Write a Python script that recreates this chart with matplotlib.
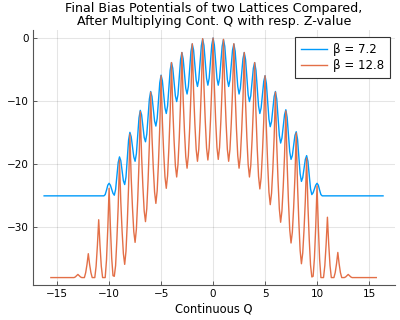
import numpy as np
import matplotlib
matplotlib.use("Agg")
import matplotlib.pyplot as plt

# Datos (Q continuo, paso de 0.125)
q_blue = np.linspace(-10.75, 10.75, 173)
bias_blue = [
    -25.1, -25.1, -25.1,
    -24.9, -24.2, -23.4, -23.1,
    -23.4, -24.05, -24.7, -25.0,
    -24.1, -21.95, -19.8, -18.9,
    -19.5, -21.1, -22.7, -23.3,
    -22.1, -19.15, -16.2, -15.0,
    -15.7, -17.3, -18.9, -19.6,
    -18.4, -15.55, -12.7, -11.5,
    -12.2, -14.0, -15.8, -16.5,
    -15.3, -12.5, -9.7, -8.5,
    -9.3, -11.25, -13.2, -14.0,
    -12.8, -9.95, -7.1, -5.9,
    -6.8, -8.95, -11.1, -12.0,
    -10.8, -7.95, -5.1, -3.9,
    -4.8, -7.0, -9.2, -10.1,
    -9.0, -6.2, -3.4, -2.3,
    -3.3, -5.6, -8.0, -8.9,
    -7.7, -4.9, -2.1, -0.95,
    -1.9, -4.3, -6.7, -7.7,
    -6.6, -3.9, -1.2, -0.15,
    -1.2, -3.8, -6.4, -7.5,
    -6.4, -3.75, -1.1, 0.0,
    -1.1, -3.75, -6.4, -7.5,
    -6.4, -3.9, -1.3, -0.25,
    -1.3, -4.0, -6.6, -7.7,
    -6.7, -4.3, -1.9, -0.95,
    -2.1, -4.9, -7.7, -8.9,
    -8.0, -5.6, -3.3, -2.3,
    -3.4, -6.2, -9.0, -10.1,
    -9.2, -7.0, -4.8, -3.9,
    -5.1, -7.95, -10.8, -12.0,
    -11.1, -9.0, -6.9, -6.0,
    -7.2, -10.05, -12.9, -14.1,
    -13.3, -11.3, -9.3, -8.5,
    -9.7, -12.6, -15.5, -16.7,
    -15.9, -14.05, -12.2, -11.4,
    -12.6, -15.35, -18.1, -19.3,
    -18.7, -17.1, -15.5, -14.9,
    -16.1, -18.85, -21.6, -22.8,
    -22.2, -20.75, -19.3, -18.7,
    -19.6, -21.8, -24.0, -24.9,
    -24.6, -24.0, -23.4, -23.1,
    -23.4, -24.2, -24.9, -25.1,
    -25.1, -25.1,
]
blue_ends_q = [-16.25, 16.35]
blue_floor = -25.1

q_orange = np.linspace(-13.5, 13.5, 217)
bias_orange = [
    -38.1,
    -38.1, -38.0, -37.8, -37.6,
    -37.8, -38.0, -38.1, -38.1,
    -38.1, -37.3, -36.0, -34.3,
    -36.0, -37.3, -38.1, -38.1,
    -38.1, -36.3, -33.0, -28.9,
    -33.0, -36.3, -38.1, -38.1,
    -38.1, -35.3, -30.3, -23.9,
    -30.0, -35.0, -37.8, -37.9,
    -36.2, -32.0, -26.8, -19.4,
    -26.0, -30.7, -34.3, -36.0,
    -33.9, -29.4, -23.6, -15.3,
    -22.2, -27.0, -30.8, -32.5,
    -30.4, -25.8, -20.0, -11.7,
    -18.7, -23.6, -27.5, -29.2,
    -27.1, -22.6, -16.8, -8.6,
    -15.7, -20.6, -24.5, -26.3,
    -24.3, -19.8, -14.1, -6.0,
    -13.2, -18.2, -22.1, -23.9,
    -21.9, -17.5, -11.9, -3.9,
    -11.2, -16.3, -20.3, -22.1,
    -20.1, -15.8, -10.2, -2.3,
    -9.7, -14.8, -18.9, -20.7,
    -18.7, -14.4, -8.8, -0.9,
    -8.4, -13.6, -17.7, -19.6,
    -17.7, -13.4, -7.9, -0.1,
    -7.8, -13.2, -17.5, -19.4,
    -17.5, -13.2, -7.8, 0.0,
    -7.7, -13.1, -17.4, -19.3,
    -17.4, -13.2, -7.9, -0.2,
    -8.0, -13.4, -17.7, -19.6,
    -17.7, -13.6, -8.4, -0.9,
    -8.8, -14.4, -18.7, -20.7,
    -18.9, -14.8, -9.7, -2.3,
    -10.2, -15.8, -20.1, -22.1,
    -20.3, -16.3, -11.2, -3.9,
    -11.9, -17.6, -22.0, -24.0,
    -22.2, -18.2, -13.2, -6.0,
    -14.2, -19.9, -24.5, -26.5,
    -24.7, -20.8, -15.8, -8.6,
    -16.9, -22.7, -27.2, -29.3,
    -27.5, -23.6, -18.7, -11.6,
    -20.0, -25.9, -30.5, -32.6,
    -30.9, -27.0, -22.1, -15.1,
    -23.4, -29.2, -33.8, -35.9,
    -34.2, -30.5, -25.8, -19.1,
    -26.7, -32.0, -36.1, -38.0,
    -37.9, -35.0, -30.0, -23.5,
    -30.0, -35.2, -38.1, -38.1,
    -38.1, -36.2, -32.8, -28.5,
    -32.8, -36.2, -38.1, -38.1,
    -38.1, -37.3, -35.9, -34.1,
    -35.9, -37.3, -38.1, -38.1,
    -38.1, -38.0, -37.8, -37.6,
    -37.8, -38.0, -38.1, -38.1,
]
orange_ends_q = [-15.6, 15.7]
orange_floor = -38.1

labels = ["β = 7.2", "β = 12.8"]
x_ticks = [-15, -10, -5, 0, 5, 10, 15]
y_ticks = [-30, -20, -10, 0]

# Añadir los tramos planos de los extremos
xb = np.concatenate([[blue_ends_q[0]], q_blue, [blue_ends_q[1]]])
yb = np.concatenate([[blue_floor], bias_blue, [blue_floor]])
xo = np.concatenate([[orange_ends_q[0]], q_orange, [orange_ends_q[1]]])
yo = np.concatenate([[orange_floor], bias_orange, [orange_floor]])

plt.rcParams["font.family"] = ["DejaVu Sans"]

fig = plt.figure(figsize=(4, 3.2), dpi=100)
ax = fig.add_axes([0.083, 0.109, 0.9045, 0.797])

ax.plot(xb, yb, color="#009AFA", linewidth=1, label=labels[0])
ax.plot(xo, yo, color="#E36F47", linewidth=1, label=labels[1])

ax.set_xlim(-17.3, 17.5)
ax.set_ylim(-39.3, 1.27)
ax.set_xticks(x_ticks)
ax.set_yticks(y_ticks)
ax.grid(True, color="black", alpha=0.1, linewidth=0.8)
ax.tick_params(direction="in", length=3, width=0.6, color="#444444",
               labelsize=7.5, pad=3)
for side in ["top", "right"]:
    ax.spines[side].set_visible(False)
for side in ["left", "bottom"]:
    ax.spines[side].set_color("#555555")
    ax.spines[side].set_linewidth(0.8)

ax.set_title("Final Bias Potentials of two Lattices Compared,\n"
             "After Multiplying Cont. Q with resp. Z-value",
             fontsize=9.1, linespacing=1.0, pad=4)
ax.set_xlabel("Continuous Q", fontsize=8.3, labelpad=2)

leg = ax.legend(loc="upper right", bbox_to_anchor=(0.987, 0.971),
                borderaxespad=0, fontsize=8.5, fancybox=False,
                framealpha=1, edgecolor="#333333", handlelength=2.2,
                borderpad=0.5, labelspacing=0.2, handletextpad=0.5)
leg.get_frame().set_linewidth(0.8)

fig.savefig("out.png", dpi=100)
